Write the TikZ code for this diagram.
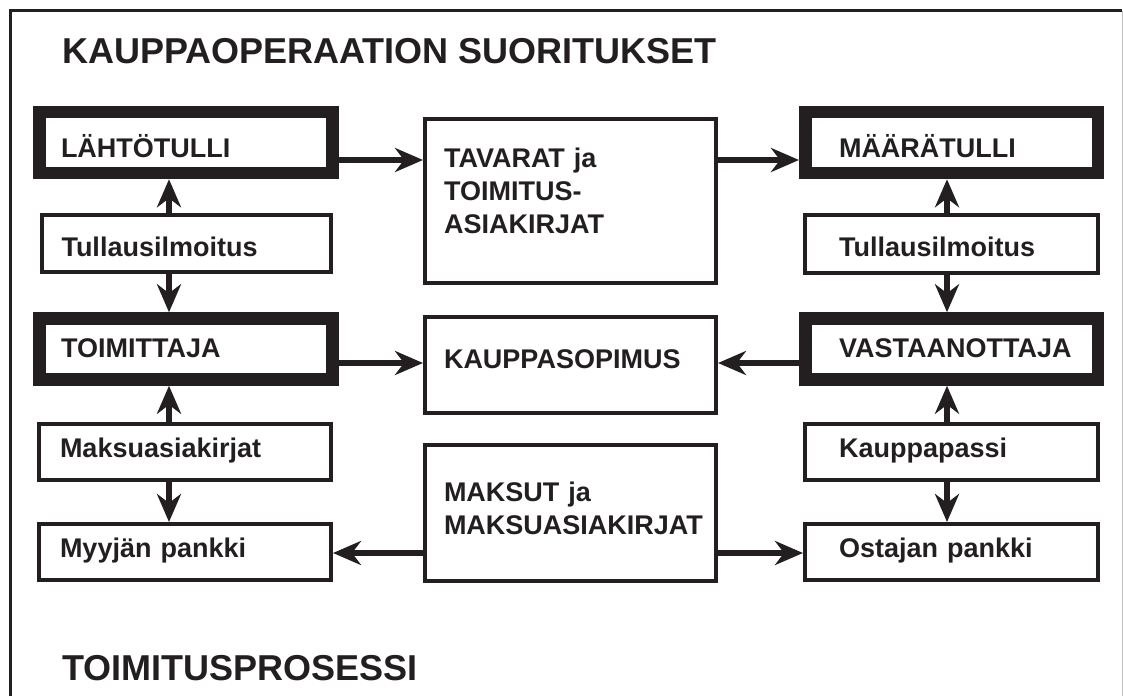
\documentclass[tikz,border=0pt]{standalone}
\usepackage{fontspec}
\setmainfont{Liberation Sans}
\usepackage{xcolor}
\usepackage{tikz}
\usetikzlibrary{arrows.meta}
\definecolor{ink}{HTML}{231F20}
\newcommand{\boxfont}{\fontsize{27}{33}\selectfont\bfseries}
\newcommand{\headfont}{\fontsize{36}{40}\selectfont\bfseries}
\hyphenpenalty=10000
\exhyphenpenalty=10000
\tikzset{
  thickbox/.style={draw=ink, line width=12.5pt, minimum width=293pt, minimum height=61pt, inner sep=0pt, font=\boxfont, text=ink, align=left},
  thinbox/.style={draw=ink, line width=4pt, minimum width=292pt, minimum height=56pt, inner sep=0pt, font=\boxfont, text=ink, align=left},
  leftcol/.style={text width=250pt},
  rightcol/.style={text width=225pt},
  midcol/.style={text width=253pt, minimum width=291pt},
  tb/.style 2 args={text height=#1pt, text depth=#2pt},
  arr/.style={draw=ink, line width=5.5pt, -{Stealth[length=28pt,width=24pt,inset=9pt]}},
  heading/.style={font=\headfont, text=ink, anchor=base west, inner sep=0pt},
}
\begin{document}
\begin{tikzpicture}[x=1pt, y=-1pt]
    \useasboundingbox (0,0) rectangle (1123,696);
    % frame
    \draw[ink, line width=3.5pt] (10.5,696) -- (10.5,10.7) -- (1122,10.7);
    \draw[black!25, line width=0.8pt] (1122.5,10.7) -- (1122.5,696);
    \node[heading] (titletop) at (62,63) {KAUPPAOPERAATION SUORITUKSET};
    \node[heading] (titlebot) at (62,680) {TOIMITUSPROSESSI};
    % left column
    \node[thickbox, leftcol, tb={29}{0}] (lahto) at (186,142.5) {LÄHTÖTULLI};
    \node[thinbox, leftcol, tb={25}{0}, minimum width=289pt, minimum height=57pt] (tulL) at (186.5,243.5) {Tullausilmoitus};
    \node[thickbox, leftcol, tb={16}{0}] (toim) at (186,349) {TOIMITTAJA};
    \node[thinbox, leftcol, tb={10}{0}] (maksL) at (185,452) {Maksuasiakirjat};
    \node[thinbox, leftcol, tb={10}{0}] (myyja) at (185,552) {Myyjän pankki};
    % middle column
    \node[thinbox, midcol, tb={0}{68}, minimum height=164pt] (tavarat) at (570.5,201) {TAVARAT ja\\TOIMITUS-\\ASIAKIRJAT};
    \node[thinbox, midcol, tb={20}{14}, minimum height=96pt] (sopimus) at (570.5,365) {KAUPPASOPIMUS};
    \node[thinbox, midcol, tb={20}{44}, minimum height=136pt] (maksut) at (570.5,513) {MAKSUT ja\\MAKSUASIAKIRJAT};
    % right column
    \node[thickbox, rightcol, tb={29}{0}, minimum width=292.5pt] (maara) at (951.5,142.5) {MÄÄRÄTULLI};
    \node[thinbox, rightcol, tb={24}{0}, minimum width=293pt, minimum height=58pt] (tulR) at (951.5,244) {Tullausilmoitus};
    \node[thickbox, rightcol, tb={16}{0}, minimum width=292.5pt] (vast) at (951.5,349) {VASTAANOTTAJA};
    \node[thinbox, rightcol, tb={10}{0}, minimum width=293pt] (kpass) at (951.5,452) {Kauppapassi};
    \node[thinbox, rightcol, tb={10}{0}, minimum width=293pt] (ostaja) at (951.5,552) {Ostajan pankki};
    % arrow lanes
    \coordinate (colL) at (169,0);
    \coordinate (colR) at (947,0);
    \coordinate (rowA) at (0,160);
    \coordinate (rowB) at (0,363);
    \coordinate (rowC) at (0,553);
    % vertical arrows
    \draw[arr] (tulL.north -| colL) -- (lahto.south -| colL);
    \draw[arr] (tulL.south -| colL) -- (toim.north -| colL);
    \draw[arr] (maksL.north -| colL) -- (toim.south -| colL);
    \draw[arr] (maksL.south -| colL) -- (myyja.north -| colL);
    \draw[arr] (tulR.north -| colR) -- (maara.south -| colR);
    \draw[arr] (tulR.south -| colR) -- (vast.north -| colR);
    \draw[arr] (kpass.north -| colR) -- (vast.south -| colR);
    \draw[arr] (kpass.south -| colR) -- (ostaja.north -| colR);
    % horizontal arrows
    \draw[arr] (lahto.east |- rowA) -- (tavarat.west |- rowA);
    \draw[arr] (tavarat.east |- rowA) -- (maara.west |- rowA);
    \draw[arr] (toim.east |- rowB) -- (sopimus.west |- rowB);
    \draw[arr] (vast.west |- rowB) -- (sopimus.east |- rowB);
    \draw[arr] (maksut.west |- rowC) -- (myyja.east |- rowC);
    \draw[arr] (maksut.east |- rowC) -- (ostaja.west |- rowC);
\end{tikzpicture}
\end{document}
